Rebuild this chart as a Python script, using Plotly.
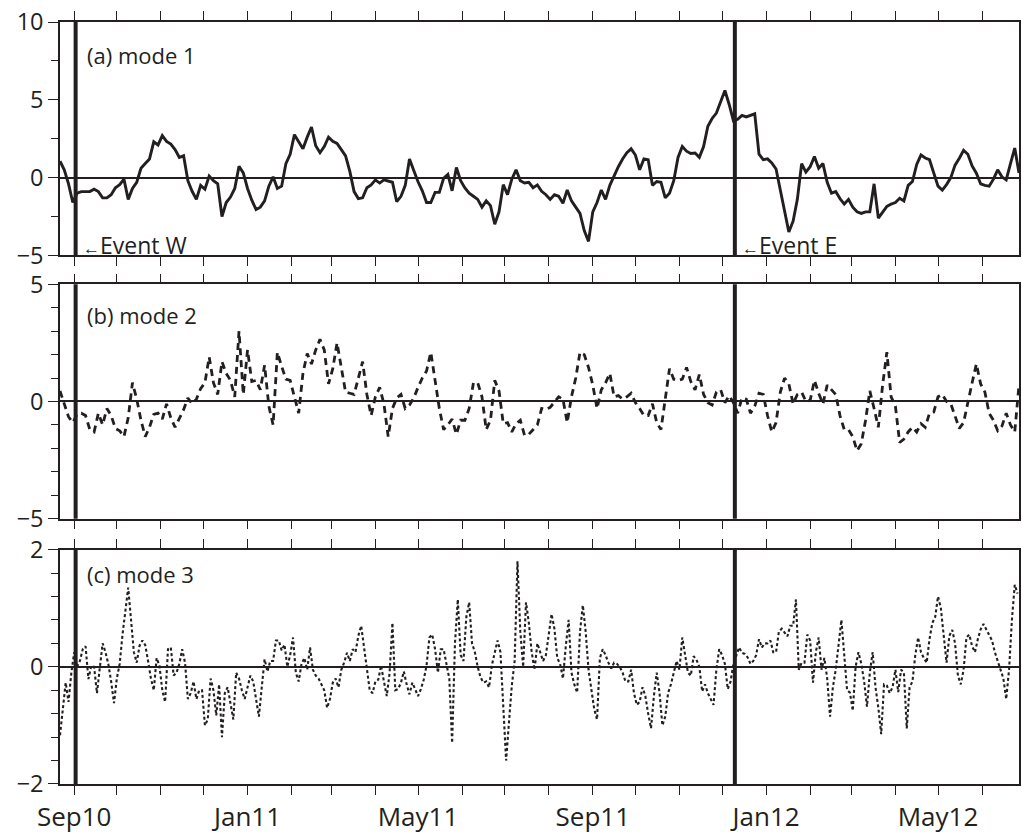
import pandas as pd
import plotly.graph_objects as go
from plotly.subplots import make_subplots

# ---- data -----------------------------------------------------------------
START = "2010-08-22"

# Mode 1 and mode 2 amplitudes, sampled every 3 days from START
mode1 = [
    1.05, 0.5, -0.4, -1.6, -1.0, -0.9, -0.9, -0.9, -0.75, -0.9,
    -1.3, -1.3, -1.1, -0.65, -0.45, -0.1, -1.4, -0.7, -0.3, 0.6,
    0.9, 1.2, 2.3, 2.1, 2.7, 2.33, 2.15, 1.8, 1.3, 1.4,
    -0.2, -0.88, -1.4, -0.5, -0.75, 0.1, -0.2, -0.4, -2.5, -1.6,
    -1.25, -0.7, 0.73, 0.3, -0.7, -1.45, -2.05, -1.9, -1.5, -0.55,
    0.05, -0.7, -0.55, 0.9, 1.5, 2.76, 2.3, 1.85, 2.6, 3.25,
    2.05, 1.6, 2.0, 2.6, 2.33, 2.2, 1.8, 1.4, 0.4, -0.9,
    -1.35, -1.3, -0.65, -0.47, -0.15, -0.35, -0.15, -0.25, -0.3, -1.55,
    -1.2, -0.5, 1.2, 0.45, -0.27, -0.85, -1.6, -1.6, -0.95, -0.95,
    -0.05, 0.2, -0.85, 0.65, -0.2, -0.66, -1.0, -1.2, -1.4, -1.9,
    -1.5, -1.8, -3.0, -2.2, -0.45, -1.1, -0.1, 0.5, -0.2, -0.35,
    -0.3, -0.65, -0.47, -0.88, -1.1, -1.4, -1.1, -1.2, -1.65, -0.8,
    -1.5, -1.9, -2.3, -3.4, -4.1, -2.2, -1.6, -0.8, -1.4, -0.5,
    0.15, 0.7, 1.2, 1.6, 1.85, 1.45, 0.5, 1.2, 1.15, -0.5,
    -0.25, -0.3, -1.3, -1.0, -0.2, 1.3, 2.0, 1.7, 1.55, 1.58,
    1.3, 2.0, 3.3, 3.8, 4.15, 4.9, 5.6, 4.7, 3.65, 3.75,
    4.0, 3.9, 4.0, 4.1, 1.5, 1.15, 1.2, 0.94, 0.55, -0.8,
    -2.25, -3.5, -2.8, -1.4, 0.9, 0.35, 0.7, 1.35, 0.6, 0.9,
    -0.3, -1.0, -0.9, -1.35, -1.7, -1.4, -1.9, -2.2, -2.3, -2.2,
    -2.2, -0.4, -2.6, -2.25, -1.85, -1.7, -1.6, -1.33, -1.5, -0.5,
    -0.25, 0.85, 1.45, 1.26, 1.15, 0.3, -0.55, -0.8, -0.45, 0.0,
    0.8, 1.25, 1.75, 1.5, 0.75, 0.28, -0.4, -0.5, -0.55, -0.1,
    0.5, 0.05, -0.15, 0.9, 1.9, 0.3,
]

mode2 = [
    0.45, -0.1, -0.65, -0.9, -0.55, -0.5, -0.6, -1.2, -1.3, -0.5,
    -1.0, -0.3, -0.6, -1.15, -1.25, -1.5, -0.7, 0.8, 0.1, -0.8,
    -1.5, -1.1, -0.55, -0.5, -0.75, -0.1, -0.7, -1.1, -0.7, -0.35,
    0.15, -0.1, 0.1, 0.55, 0.8, 1.9, 0.8, 0.3, 1.7, 1.2,
    0.9, 0.2, 3.0, 0.3, 2.2, 0.85, 0.9, 0.5, 1.55, -0.2,
    -1.0, 2.1, 1.5, 0.95, 0.9, 0.2, -0.5, 1.2, 2.05, 1.6,
    2.2, 2.65, 2.2, 0.75, 1.4, 2.5, 1.5, 0.4, 0.35, 0.3,
    1.0, 1.7, 0.3, -0.6, 0.2, 0.6, -0.1, -1.5, -0.3, 0.15,
    0.3, -0.3, -0.15, 0.15, 0.6, 1.0, 1.3, 2.1, 0.9, -0.3,
    -1.2, -1.0, -0.75, -1.4, -0.8, -0.8, -0.3, 0.8, 0.8, 0.2,
    -1.2, -0.8, 0.9, 0.45, -0.95, -0.9, -1.3, -0.95, -0.8, -1.45,
    -1.4, -1.2, -1.0, -0.3, -0.35, -0.25, 0.0, 0.2, 0.1, -0.9,
    0.2, 1.0, 2.1, 2.0, 1.45, 0.7, -0.3, 0.5, 0.8, 1.2,
    0.2, 0.25, 0.1, 0.2, 0.35, -0.05, -0.3, -0.6, -0.6, -0.1,
    -0.9, -1.2, 0.1, 1.4, 0.95, 0.9, 0.95, 1.45, 0.85, 0.5,
    1.15, 0.3, -0.05, -0.15, 0.4, 0.5, -0.05, 0.25, -0.05, -0.5,
    0.15, 0.1, -0.5, -0.2, 0.35, 0.3, -0.6, -1.3, -0.9, 0.4,
    1.0, 0.75, -0.1, 0.3, 0.4, 0.0, 0.05, 0.9, 0.35, -0.1,
    0.7, 0.5, 0.3, -0.6, -1.2, -1.2, -1.5, -2.1, -1.8, -0.8,
    0.45, -0.3, -1.1, 0.7, 2.1, 0.2, -0.2, -1.75, -1.6, -1.3,
    -1.1, -1.3, -0.95, -1.1, -0.5, -0.45, 0.2, 0.3, 0.0, -0.1,
    -0.6, -1.15, -0.9, 0.0, 0.8, 1.6, 0.75, 0.4, -0.5, -0.8,
    -1.25, -1.05, -0.5, -1.0, -1.3, 0.7,
]

# Mode 3 amplitude, sampled every 2 days from START
mode3 = [
    -1.17, -0.75, -0.27, -0.6, -0.1, 0.25, 0.0, 0.1, 0.3, 0.35,
    -0.21, 0.02, 0.0, -0.45, -0.05, 0.4, 0.25, 0.05, -0.25, -0.62,
    -0.2, 0.05, 0.55, 0.95, 1.35, 0.8, 0.25, 0.07, 0.36, 0.45,
    0.37, 0.1, -0.2, -0.4, 0.15, 0.02, -0.4, -0.6, 0.3, 0.33,
    -0.15, -0.1, 0.05, 0.3, 0.07, -0.55, -0.45, -0.25, -0.55, -0.4,
    -0.4, -1.0, -0.9, -0.2, -0.4, -0.83, -0.3, -1.2, -0.45, -0.35,
    -0.66, -0.9, -0.1, -0.2, -0.4, -0.55, -0.35, -0.15, -0.25, -0.55,
    -0.85, -0.35, 0.13, -0.08, 0.1, 0.1, 0.45, 0.45, 0.28, 0.38,
    0.0, 0.2, 0.5, -0.1, -0.25, 0.05, 0.15, -0.05, 0.33, -0.05,
    -0.15, -0.2, -0.3, -0.4, -0.7, -0.55, -0.27, -0.2, -0.35, -0.05,
    0.07, 0.24, 0.1, 0.3, 0.25, 0.53, 0.7, 0.3, -0.1, -0.4,
    -0.45, -0.25, -0.22, 0.02, -0.25, -0.5, -0.1, 0.75, -0.4, -0.38,
    -0.27, -0.08, -0.3, -0.47, -0.27, -0.4, -0.5, -0.38, -0.22, 0.02,
    0.5, 0.55, 0.3, -0.1, 0.3, 0.3, 0.02, -0.2, -1.3, 0.4,
    1.15, 0.2, 0.1, 0.85, 1.1, 0.4, 0.25, 0.0, -0.18, -0.27,
    -0.25, -0.35, 0.03, 0.25, 0.45, 0.25, -0.7, -1.6, -0.95, -0.32,
    0.1, 1.8, 0.6, 0.0, 1.1, 0.75, 0.25, -0.05, 0.4, 0.25,
    0.1, 0.2, 0.58, 0.9, 0.65, 0.15, 0.05, -0.2, 0.35, 0.8,
    -0.1, -0.3, -0.44, 0.6, 1.05, 0.6, -0.05, -0.35, -0.72, -0.9,
    0.15, 0.3, 0.2, 0.07, -0.03, 0.07, 0.05, 0.0, -0.1, -0.25,
    -0.25, -0.05, -0.45, -0.65, -0.6, -0.35, -0.5, -0.8, -1.05, -0.5,
    -0.1, -0.45, -1.0, -0.85, -0.45, -0.3, -0.08, 0.1, -0.05, 0.5,
    0.2, -0.1, -0.15, 0.18, 0.12, 0.0, -0.42, -0.3, -0.45, -0.55,
    -0.65, -0.05, 0.3, 0.2, 0.05, -0.38, -0.25, 0.05, 0.19, 0.33,
    0.24, 0.22, 0.16, 0.05, 0.1, 0.2, 0.47, 0.33, 0.4, 0.4,
    0.45, 0.25, 0.25, 0.6, 0.65, 0.58, 0.52, 0.7, 0.7, 1.15,
    -0.05, 0.07, 0.07, 0.55, 0.45, -0.27, 0.25, 0.5, -0.05, 0.15,
    -0.2, -0.85, -0.35, -0.05, 0.4, 0.8, 0.2, -0.4, -0.44, -0.75,
    0.0, 0.25, 0.05, -0.25, -0.68, -0.1, 0.25, -0.35, -0.7, -1.15,
    -0.3, -0.32, -0.45, -0.35, -0.05, -0.43, -0.05, -0.1, -1.05, -0.35,
    -0.25, 0.2, 0.5, 0.25, 0.15, 0.07, 0.47, 0.75, 0.85, 1.2,
    1.0, 0.5, 0.07, 0.53, 0.63, 0.4, -0.15, -0.3, -0.05, 0.5,
    0.55, 0.35, 0.25, 0.47, 0.64, 0.73, 0.64, 0.53, 0.45, 0.25,
    0.1, -0.05, -0.2, -0.55, -0.05, 0.8, 1.4, 1.25,
]

t_3day = pd.date_range(START, periods=len(mode1), freq="3D")
t_2day = pd.date_range(START, periods=len(mode3), freq="2D")

event_dates = ["2010-09-02", "2011-12-10"]
event_labels = ["Event W", "Event E"]
panel_titles = ["(a) mode 1", "(b) mode 2", "(c) mode 3"]
y_ranges = [[-5, 10], [-5, 5], [-2, 2]]
y_major = [5, 5, 2]
y_minor = [2.5, 1, 0.4]
x_range = ["2010-08-22", "2012-06-27"]

# ---- figure ---------------------------------------------------------------
INK = "#231f20"
FONT = "Open Sans"

fig = make_subplots(rows=3, cols=1, shared_xaxes=True)

fig.add_trace(go.Scatter(x=t_3day, y=mode1, mode="lines",
                         line=dict(color=INK, width=2.9)), row=1, col=1)
fig.add_trace(go.Scatter(x=t_3day, y=mode2, mode="lines",
                         line=dict(color=INK, width=2.8, dash="7px,5px")), row=2, col=1)
fig.add_trace(go.Scatter(x=t_2day, y=mode3, mode="lines",
                         line=dict(color=INK, width=2.1, dash="3px,2.5px")), row=3, col=1)

domains = [[0.6937, 1.0], [0.3482, 0.6558], [0.0, 0.3076]]
title_y = [0.859, 0.87, 0.898]

for i in range(3):
    n = "" if i == 0 else str(i + 1)
    fig.layout["xaxis" + n].update(
        range=x_range, showgrid=False, showline=True, mirror="ticks",
        linecolor=INK, linewidth=1.5, ticks="outside", ticklen=9,
        tickwidth=1.3, tickcolor=INK, dtick="M4", tick0="2010-09-01",
        tickformat="%b%y", showticklabels=(i == 2),
        tickfont=dict(family=FONT, size=26, color=INK),
        minor=dict(dtick="M1", tick0="2010-09-01", ticks="outside",
                   ticklen=9, tickwidth=1.3, tickcolor=INK),
    )
    fig.layout["yaxis" + n].update(
        domain=domains[i], range=y_ranges[i], showgrid=False,
        showline=True, mirror=True, linecolor=INK, linewidth=1.5,
        ticks="outside", ticklen=10, tickwidth=1.3, tickcolor=INK,
        dtick=y_major[i], tick0=0,
        tickfont=dict(family=FONT, size=23.5, color=INK),
        zeroline=True, zerolinecolor=INK, zerolinewidth=2,
        minor=dict(dtick=y_minor[i], ticks="outside", ticklen=7,
                   tickwidth=1.3, tickcolor=INK),
    )
    xref = "x" + n
    yref = "y" + n
    # panel label
    fig.add_annotation(x=0.026, y=title_y[i], xref=xref + " domain",
                       yref=yref + " domain", text=panel_titles[i],
                       showarrow=False, xanchor="left", yanchor="middle",
                       font=dict(family=FONT, size=22, color=INK))
    # event markers
    for d in event_dates:
        fig.add_shape(type="line", x0=d, x1=d, y0=0, y1=1, xref=xref,
                      yref=yref + " domain", line=dict(color=INK, width=4))

for d, lab in zip(event_dates, event_labels):
    fig.add_annotation(x=d, y=0.045, xref="x", yref="y domain",
                       text="<span style='font-size:17px'>\u2190</span>" + lab,
                       showarrow=False, xanchor="left", yanchor="middle",
                       xshift=5, font=dict(family=FONT, size=23, color=INK))

fig.update_layout(
    width=1022, height=835, showlegend=False,
    margin=dict(l=60, r=1, t=22, b=49),
    paper_bgcolor="white", plot_bgcolor="white",
)

fig.write_html("out.html")
